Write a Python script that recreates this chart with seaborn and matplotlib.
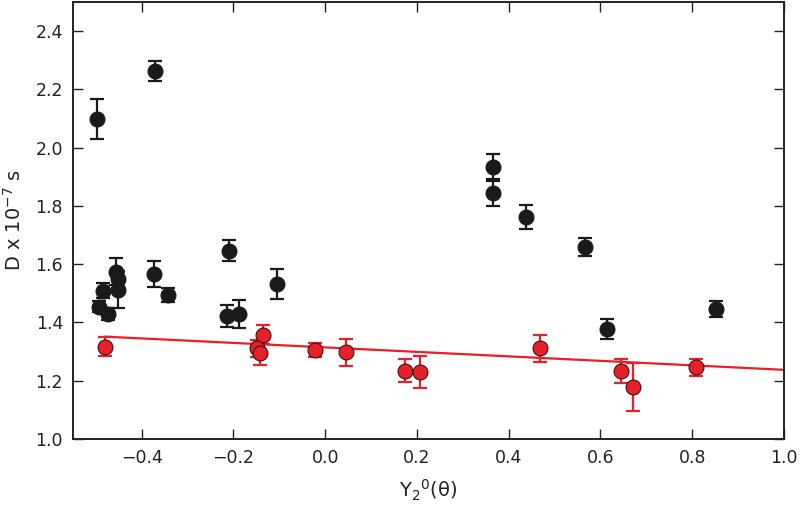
import numpy as np
import pandas as pd
import seaborn as sns
from matplotlib import pyplot as plt

# black series: orientation factor, D value, error
black_x = [-0.498, -0.371, -0.493, -0.485, -0.473, -0.456, -0.451, -0.452,
           -0.373, -0.343, -0.210, -0.215, -0.188, -0.106,
           0.365, 0.365, 0.438, 0.566, 0.614, 0.851]
black_y = [2.098, 2.263, 1.454, 1.509, 1.428, 1.574, 1.548, 1.511,
           1.566, 1.494, 1.646, 1.422, 1.428, 1.531,
           1.935, 1.843, 1.761, 1.658, 1.377, 1.446]
black_err = [0.070, 0.034, 0.020, 0.027, 0.020, 0.046, 0.030, 0.063,
             0.044, 0.024, 0.036, 0.037, 0.049, 0.051,
             0.043, 0.042, 0.042, 0.031, 0.035, 0.026]

# red series
red_x = [-0.480, -0.135, -0.148, -0.143, -0.022, 0.045, 0.173, 0.207,
         0.469, 0.645, 0.670, 0.809]
red_y = [1.317, 1.357, 1.311, 1.294, 1.305, 1.297, 1.234, 1.229,
         1.311, 1.233, 1.179, 1.245]
red_err = [0.033, 0.033, 0.030, 0.040, 0.023, 0.047, 0.039, 0.055,
           0.047, 0.040, 0.082, 0.030]

# fitted line endpoints
fit_x = [-0.48, 1.0]
fit_y = [1.351, 1.237]

x_ticks = [-0.4, -0.2, 0.0, 0.2, 0.4, 0.6, 0.8, 1.0]
y_ticks = [1.0, 1.2, 1.4, 1.6, 1.8, 2.0, 2.2, 2.4]

BLACK = "#1a1a1a"
RED = "#e8202a"

sns.set_style("ticks")
plt.rcParams["font.family"] = ["DejaVu Sans"]

fig = plt.figure(figsize=(8, 5.05), dpi=100)
ax = fig.add_axes([0.091, 0.131, 0.889, 0.865])

black = pd.DataFrame({"x": black_x, "y": black_y, "err": black_err})
red = pd.DataFrame({"x": red_x, "y": red_y, "err": red_err})
fit = pd.DataFrame({"x": fit_x, "y": fit_y})

sns.lineplot(data=fit, x="x", y="y", color="#ee1c24", linewidth=1.6, ax=ax, zorder=2)

ax.errorbar(black["x"], black["y"], yerr=black["err"], fmt="none",
            ecolor=BLACK, elinewidth=1.6, capsize=5, capthick=1.6, zorder=3)
ax.errorbar(red["x"], red["y"], yerr=red["err"], fmt="none",
            ecolor=RED, elinewidth=1.6, capsize=5, capthick=1.6, zorder=3)

sns.scatterplot(data=black, x="x", y="y", color=BLACK, edgecolor=BLACK,
                s=115, linewidth=0.8, ax=ax, zorder=4)
sns.scatterplot(data=red, x="x", y="y", color=RED, edgecolor="#3a1010",
                s=115, linewidth=0.8, ax=ax, zorder=4)

ax.set_xlim(-0.55, 1.0)
ax.set_ylim(1.0, 2.5)
ax.set_xticks(x_ticks)
ax.set_yticks(y_ticks)
ax.set_xticklabels([f"{t:.1f}".replace("-", "\u2212") for t in x_ticks])
ax.set_yticklabels([f"{t:.1f}" for t in y_ticks])
ax.tick_params(direction="in", length=7, width=1, top=True, right=True,
               labelsize=12.5, colors="#222222", pad=7)
for spine in ax.spines.values():
    spine.set_linewidth(1.4)
    spine.set_color("#222222")

ax.set_xlabel(r"Y$_2$$^0$(θ)", fontsize=14, color="#222222", labelpad=8)
ax.set_ylabel(r"D x 10$^{-7}$ s", fontsize=14, color="#222222", labelpad=8)

fig.savefig("out.png", dpi=100)
